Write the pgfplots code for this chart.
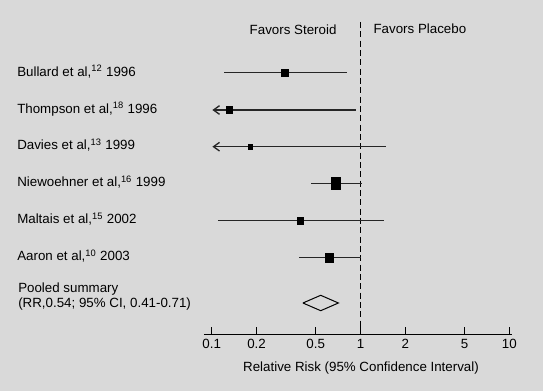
\documentclass[border=0pt]{standalone}
\usepackage{fontspec}
\setmainfont{Liberation Sans}
\usepackage{pgfplots}
\pgfplotsset{compat=1.18}
\usetikzlibrary{arrows.meta}
\definecolor{bg}{RGB}{217,217,217}
\begin{document}
\begin{tikzpicture}
\begin{scope}[x=0.75pt,y=-0.75pt]
\fill[bg] (0,0) rectangle (543,391);
\end{scope}
\begin{axis}[
  at={(153pt,-251.25pt)}, anchor=south west,
  scale only axis, width=230.8pt, height=234.75pt,
  xmode=log, xmin=0.0887, xmax=10.38, ymin=-335, ymax=-22,
  axis x line=bottom, axis y line=none,
  x axis line style={-, line width=0.75pt},
  xtick={0.1,0.2,0.5,1,2,5,10}, xticklabels={0.1,0.2,0.5,1,2,5,10},
  xminorticks=false, tick align=inside, major tick length=6pt,
  tick style={black, line width=0.75pt},
  xticklabel style={anchor=base, yshift=-10.3pt, font=\fontsize{10}{12}\selectfont},
  clip=false,
  ci/.style={black!85, line width=1pt},
  sq/.style={only marks, mark=square*},
]
% null line
\addplot[black, line width=1pt, dash pattern=on 4.5pt off 2.5pt] coordinates {(1,-22) (1,-335)};
% confidence intervals
\addplot[ci] coordinates {(0.121,-72.7) (0.81,-72.7)};
\addplot[ci, {Straight Barb[length=4.5pt,width=6.5pt]}-] coordinates {(0.101,-110) (0.93,-110)};
\addplot[ci, {Straight Barb[length=4.5pt,width=6.5pt]}-] coordinates {(0.101,-146.7) (1.48,-146.7)};
\addplot[ci] coordinates {(0.465,-183.7) (1.02,-183.7)};
\addplot[ci] coordinates {(0.110,-220.7) (1.44,-220.7)};
\addplot[ci] coordinates {(0.386,-257.7) (1.0,-257.7)};
% point estimates
\addplot[sq, mark size=2.625pt, mark options={draw=none, fill=black, yscale=1.04}] coordinates {(0.308,-72.7)};
\addplot[sq, mark size=2.0pt, mark options={draw=none, fill=black, yscale=1.25}] coordinates {(0.131,-110)};
\addplot[sq, mark size=1.65pt, mark options={draw=none, fill=black, yscale=1.3}] coordinates {(0.182,-146.7)};
\addplot[sq, mark size=3.25pt, mark options={draw=none, fill=black, yscale=1.38}] coordinates {(0.681,-183.7)};
\addplot[sq, mark size=2.25pt, mark options={draw=none, fill=black, yscale=1.05}] coordinates {(0.392,-220.7)};
\addplot[sq, mark size=3.0pt, mark options={draw=none, fill=black, yscale=1.2}] coordinates {(0.614,-257.7)};
% pooled diamond
\addplot[black, line width=0.75pt, fill=bg, line join=miter] coordinates {(0.41,-303) (0.54,-295.3) (0.71,-303) (0.54,-310.7) (0.41,-303)};
\end{axis}
\begin{scope}[x=0.75pt,y=-0.75pt, every node/.style={font=\fontsize{10}{12}\selectfont, inner sep=0pt}]
\node[anchor=base west] at (17,76.5) {Bullard et al,\textsuperscript{12} 1996};
\node[anchor=base west] at (17,113.5) {Thompson et al,\textsuperscript{18} 1996};
\node[anchor=base west] at (17,150) {Davies et al,\textsuperscript{13} 1999};
\node[anchor=base west] at (17,187) {Niewoehner et al,\textsuperscript{16} 1999};
\node[anchor=base west] at (17,224) {Maltais et al,\textsuperscript{15} 2002};
\node[anchor=base west] at (17,261) {Aaron et al,\textsuperscript{10} 2003};
\node[anchor=base west] at (18,293) {Pooled summary};
\node[anchor=base west] at (18,308) {(RR,0.54; 95\% CI, 0.41-0.71)};
\node[anchor=base east] at (336.7,34.5) {Favors Steroid};
\node[anchor=base west] at (373.3,33.5) {Favors Placebo};
\node[anchor=base] at (361,371.5) {Relative Risk (95\% Confidence Interval)};
\end{scope}
\end{tikzpicture}
\end{document}
